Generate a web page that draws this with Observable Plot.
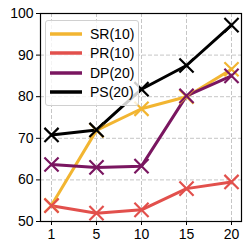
<!DOCTYPE html>
<html>
<head>
<meta charset="utf-8">
<script src="https://cdn.jsdelivr.net/npm/d3@7"></script>
<script src="https://cdn.jsdelivr.net/npm/@observablehq/plot@0.6"></script>
<style>
  html, body { margin: 0; padding: 0; background: #fff; }
  #wrap { position: relative; width: 249px; height: 249px; font-family: "Liberation Sans", Arial, sans-serif; }
  #legend { position: absolute; left: 45px; top: 20px; width: 94px; padding: 3px 0 3px 0;
    background: rgba(255,255,255,0.8); border: 1px solid #d0d0d0; border-radius: 3px; box-sizing: border-box; }
  .item { display: flex; align-items: center; height: 19.5px; font-size: 14px; color: #000; }
  .item svg { margin-left: 4px; margin-right: 8px; }
</style>
</head>
<body>
<div id="wrap"></div>
<script>
const xLabels = ["1", "5", "10", "15", "20"];
const seriesNames = ["SR(10)", "PR(10)", "DP(20)", "PS(20)"];
const seriesColors = ["#f2b531", "#e2504c", "#7a1660", "#000000"];
const SR = [53.9, 71.9, 77.1, 80.0, 86.6];
const PR = [53.8, 52.0, 52.8, 57.9, 59.5];
const DP = [63.7, 63.0, 63.3, 80.2, 85.0];
const PS = [70.8, 72.0, 81.8, 87.5, 97.2];
const yTicks = [50, 60, 70, 80, 90, 100];

const allSeries = [SR, PR, DP, PS];
const data = [];
allSeries.forEach((vals, si) => vals.forEach((v, i) => data.push({series: seriesNames[si], x: xLabels[i], y: v})));

const chart = Plot.plot({
  width: 249,
  height: 249,
  marginLeft: 40,
  marginRight: 8,
  marginTop: 13,
  marginBottom: 28,
  style: { fontFamily: '"Liberation Sans", Arial, sans-serif', fontSize: "14px", background: "#fff", overflow: "visible" },
  x: { type: "point", domain: xLabels, padding: 0.2 },
  y: { domain: [50, 100] },
  color: { domain: seriesNames, range: seriesColors },
  marks: [
    Plot.gridX(xLabels, { stroke: "#b8b8b8", strokeOpacity: 1, strokeWidth: 0.8, strokeDasharray: "4,2" }),
    Plot.gridY(yTicks, { stroke: "#b8b8b8", strokeOpacity: 1, strokeWidth: 0.8, strokeDasharray: "4,2" }),
    Plot.lineY(data, { x: "x", y: "y", z: "series", stroke: "series", strokeWidth: 3, curve: "linear" }),
    Plot.dot(data, { x: "x", y: "y", stroke: "series", symbol: "times", r: 6.5, strokeWidth: 2.2 }),
    Plot.frame({ stroke: "#000", strokeWidth: 1.2 }),
    Plot.axisX(xLabels, { tickSize: 4, tickPadding: 4, label: null, fontSize: 14, stroke: "#000" }),
    Plot.axisY(yTicks, { tickSize: 4, tickPadding: 3, label: null, fontSize: 14, stroke: "#000" })
  ]
});

const wrap = document.getElementById("wrap");
wrap.appendChild(chart);

const legend = document.createElement("div");
legend.id = "legend";
seriesNames.forEach((name, i) => {
  const item = document.createElement("div");
  item.className = "item";
  item.innerHTML = `<svg width="32" height="6"><line x1="0" y1="3" x2="32" y2="3" stroke="${seriesColors[i]}" stroke-width="3.5"/></svg><span>${name}</span>`;
  legend.appendChild(item);
});
wrap.appendChild(legend);
</script>
</body>
</html>
